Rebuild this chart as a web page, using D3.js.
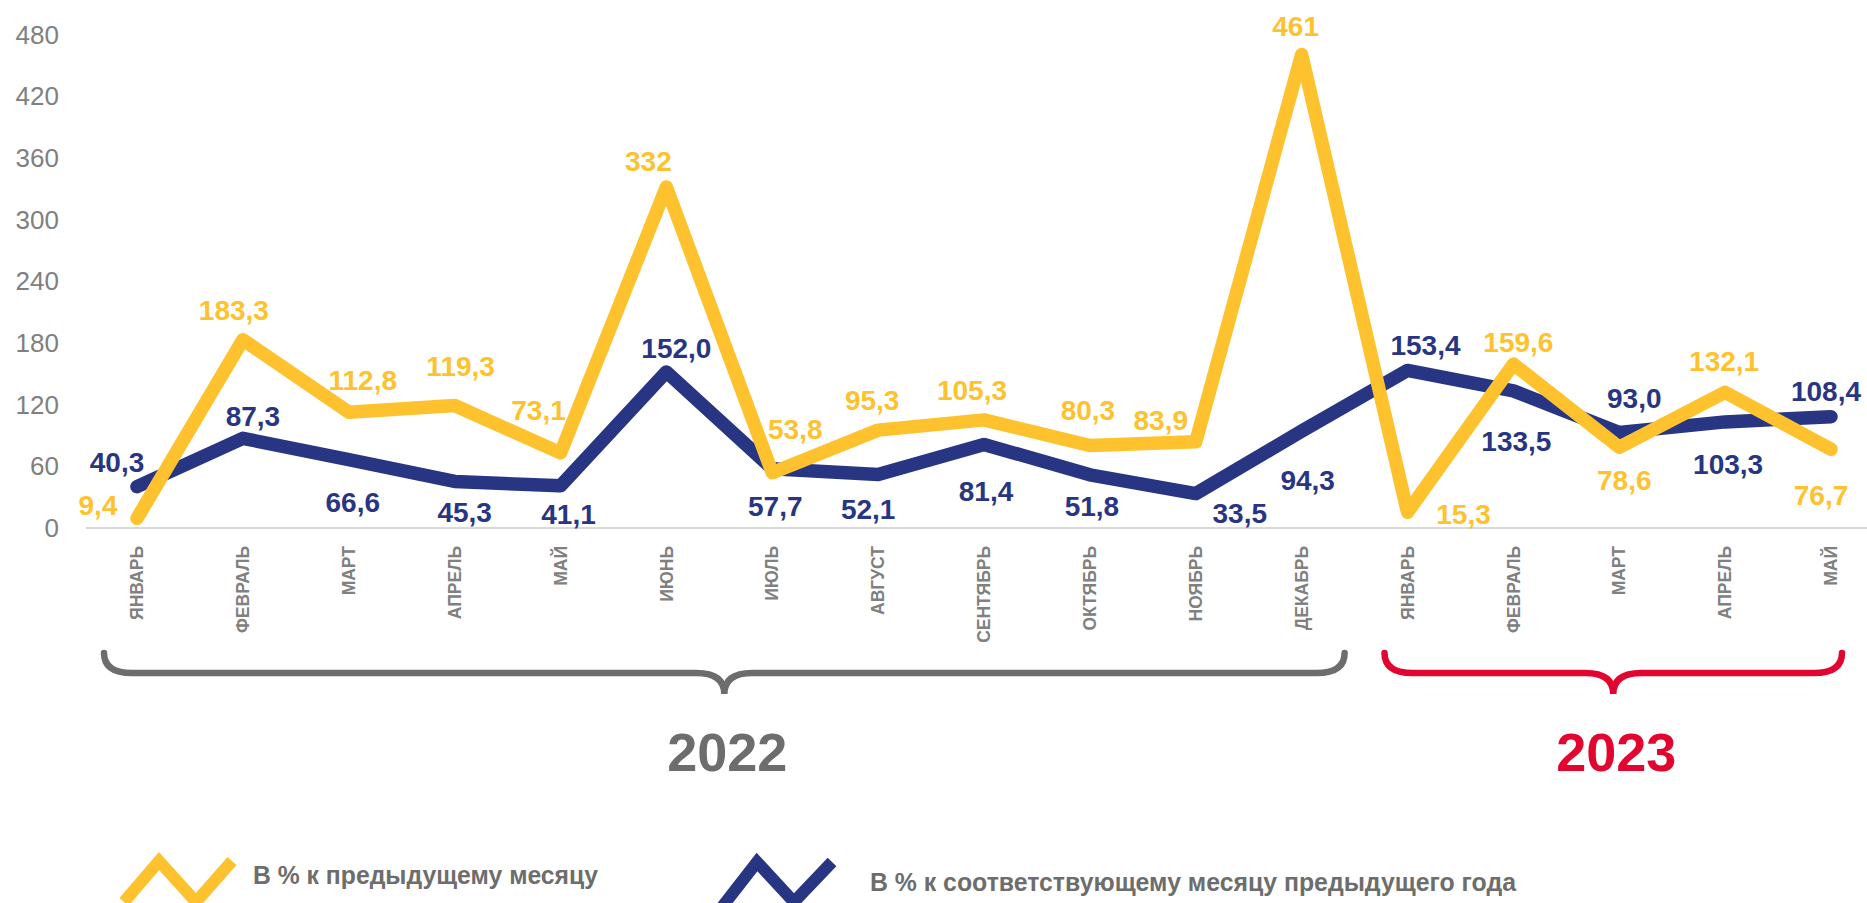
<!DOCTYPE html>
<html>
<head>
<meta charset="utf-8">
<script src="https://cdn.jsdelivr.net/npm/d3@7"></script>
<style>
  html, body { margin: 0; padding: 0; background: #ffffff; }
  svg { display: block; font-family: "Liberation Sans", Arial, sans-serif; }
</style>
</head>
<body>
<svg id="chart" width="1867" height="903"></svg>
<script>
// months on the x axis (2022: Jan-Dec, 2023: Jan-May)
var months = ['ЯНВАРЬ','ФЕВРАЛЬ','МАРТ','АПРЕЛЬ','МАЙ','ИЮНЬ','ИЮЛЬ','АВГУСТ','СЕНТЯБРЬ','ОКТЯБРЬ','НОЯБРЬ','ДЕКАБРЬ',
              'ЯНВАРЬ','ФЕВРАЛЬ','МАРТ','АПРЕЛЬ','МАЙ'];
// В % к предыдущему месяцу
var prevMonth = [9.4, 183.3, 112.8, 119.3, 73.1, 332, 53.8, 95.3, 105.3, 80.3, 83.9, 461, 15.3, 159.6, 78.6, 132.1, 76.7];
var prevMonthText = ['9,4','183,3','112,8','119,3','73,1','332','53,8','95,3','105,3','80,3','83,9','461','15,3','159,6','78,6','132,1','76,7'];
// В % к соответствующему месяцу предыдущего года
var prevYear = [40.3, 87.3, 66.6, 45.3, 41.1, 152.0, 57.7, 52.1, 81.4, 51.8, 33.5, 94.3, 153.4, 133.5, 93.0, 103.3, 108.4];
var prevYearText = ['40,3','87,3','66,6','45,3','41,1','152,0','57,7','52,1','81,4','51,8','33,5','94,3','153,4','133,5','93,0','103,3','108,4'];
var yTicks = [0, 60, 120, 180, 240, 300, 360, 420, 480];
var years = ['2022', '2023'];
var yearFirst = [0, 12], yearLast = [11, 16];
var legendNames = ['В % к предыдущему месяцу', 'В % к соответствующему месяцу предыдущего года'];

// label placement around each point (px)
var yellowOff = [[-39,-13],[-9,-30],[14,-32],[6,-39],[-22,-43],[-18,-26],[23,-44],[-6,-30],[-12,-30],[-2,-35],
                 [-35,-22],[-6,-28],[56,2],[5,-22],[5,33],[-1,-31],[-10,46]];
var blueOff = [[-20,-24],[10,-22],[4,43],[10,31],[8,28],[10,-24],[3,37],[-10,35],[2,47],[2,31],
               [44,20],[6,49],[18,-25],[3,50],[15,-34],[3,42],[-5,-25]];

var yellow = '#FEC22E', blue = '#283583', grey = '#6d6d6d', red = '#E2052F';

var svg = d3.select('#chart');
var idx = d3.range(months.length);

var x = d3.scalePoint().domain(idx).range([137, 1831]);
var y = d3.scaleLinear().domain([0, 480]).range([528, 35]);

// baseline
svg.append('line').attr('x1', 86).attr('x2', 1867).attr('y1', y(0)).attr('y2', y(0))
	.attr('stroke', '#d9d9d9').attr('stroke-width', 2);

// y axis labels only
var yAxis = svg.append('g').attr('transform', 'translate(67,0)')
	.call(d3.axisLeft(y).tickValues(yTicks).tickSize(0).tickPadding(8));
yAxis.select('.domain').remove();
yAxis.selectAll('text').attr('font-size', 26).attr('fill', '#808080')
	.attr('font-family', '"Liberation Sans", Arial, sans-serif');

// month labels, rotated
svg.selectAll('text.month').data(idx).enter().append('text')
	.attr('class', 'month')
	.attr('transform', d => 'translate(' + x(d) + ',546) rotate(-90)')
	.attr('text-anchor', 'end').attr('dy', '0.35em')
	.attr('font-size', 17.5).attr('font-weight', 'bold').attr('fill', '#808080')
	.text(d => months[d]);

// lines
var line = d3.line().x((d, i) => x(i)).y(d => y(d));
svg.append('path').datum(prevYear).attr('d', line)
	.attr('fill', 'none').attr('stroke', blue).attr('stroke-width', 13.5)
	.attr('stroke-linejoin', 'round').attr('stroke-linecap', 'round');
svg.append('path').datum(prevMonth).attr('d', line)
	.attr('fill', 'none').attr('stroke', yellow).attr('stroke-width', 13.5)
	.attr('stroke-linejoin', 'round').attr('stroke-linecap', 'round');

// data labels
function addLabels(vals, texts, offs, color)  {
	svg.append('g').selectAll('text').data(vals).enter().append('text')
		.attr('x', (d, i) => x(i) + offs[i][0])
		.attr('y', (d, i) => y(d) + offs[i][1])
		.attr('dy', '0.35em').attr('text-anchor', 'middle')
		.attr('font-size', 28).attr('font-weight', 'bold').attr('fill', color)
		.text((d, i) => texts[i]);
}
addLabels(prevYear, prevYearText, blueOff, blue);
addLabels(prevMonth, prevMonthText, yellowOff, yellow);

// year braces
var braceTop = 653, braceMid = 673, braceTip = 694, r = 28;
var braceColors = [grey, red];
var braceEdges = [[-33, 43], [-23, 11]];
years.forEach(function(yr, k)  {
	var x0 = x(yearFirst[k]) + braceEdges[k][0], x1 = x(yearLast[k]) + braceEdges[k][1];
	var xm = (x0 + x1) / 2;
	var p = d3.path();
	p.moveTo(x0, braceTop);
	p.quadraticCurveTo(x0, braceMid, x0 + r, braceMid);
	p.lineTo(xm - r, braceMid);
	p.quadraticCurveTo(xm, braceMid, xm, braceTip);
	p.quadraticCurveTo(xm, braceMid, xm + r, braceMid);
	p.lineTo(x1 - r, braceMid);
	p.quadraticCurveTo(x1, braceMid, x1, braceTop);
	svg.append('path').attr('d', p.toString()).attr('fill', 'none')
		.attr('stroke', braceColors[k]).attr('stroke-width', 6.5).attr('stroke-linecap', 'round');
	svg.append('text').attr('x', xm + 3).attr('y', 752).attr('dy', '0.35em')
		.attr('text-anchor', 'middle').attr('font-size', 54).attr('font-weight', 'bold')
		.attr('fill', braceColors[k]).text(yr);
});

// legend
var legColors = [yellow, blue];
var legIcon = [[[124,902],[159,861],[196,902],[232,861]], [[722,907],[757,862],[794,902],[832,862]]];
var legText = [[253, 875, 345], [870, 882, 646]];
legendNames.forEach(function(name, k)  {
	svg.append('path').attr('d', d3.line()(legIcon[k])).attr('fill', 'none')
		.attr('stroke', legColors[k]).attr('stroke-width', 12).attr('stroke-linejoin', 'miter');
	svg.append('text').attr('x', legText[k][0]).attr('y', legText[k][1]).attr('dy', '0.35em')
		.attr('font-size', 25).attr('font-weight', 'bold').attr('fill', grey)
		.attr('textLength', legText[k][2]).attr('lengthAdjust', 'spacingAndGlyphs')
		.text(name);
});
</script>
</body>
</html>
